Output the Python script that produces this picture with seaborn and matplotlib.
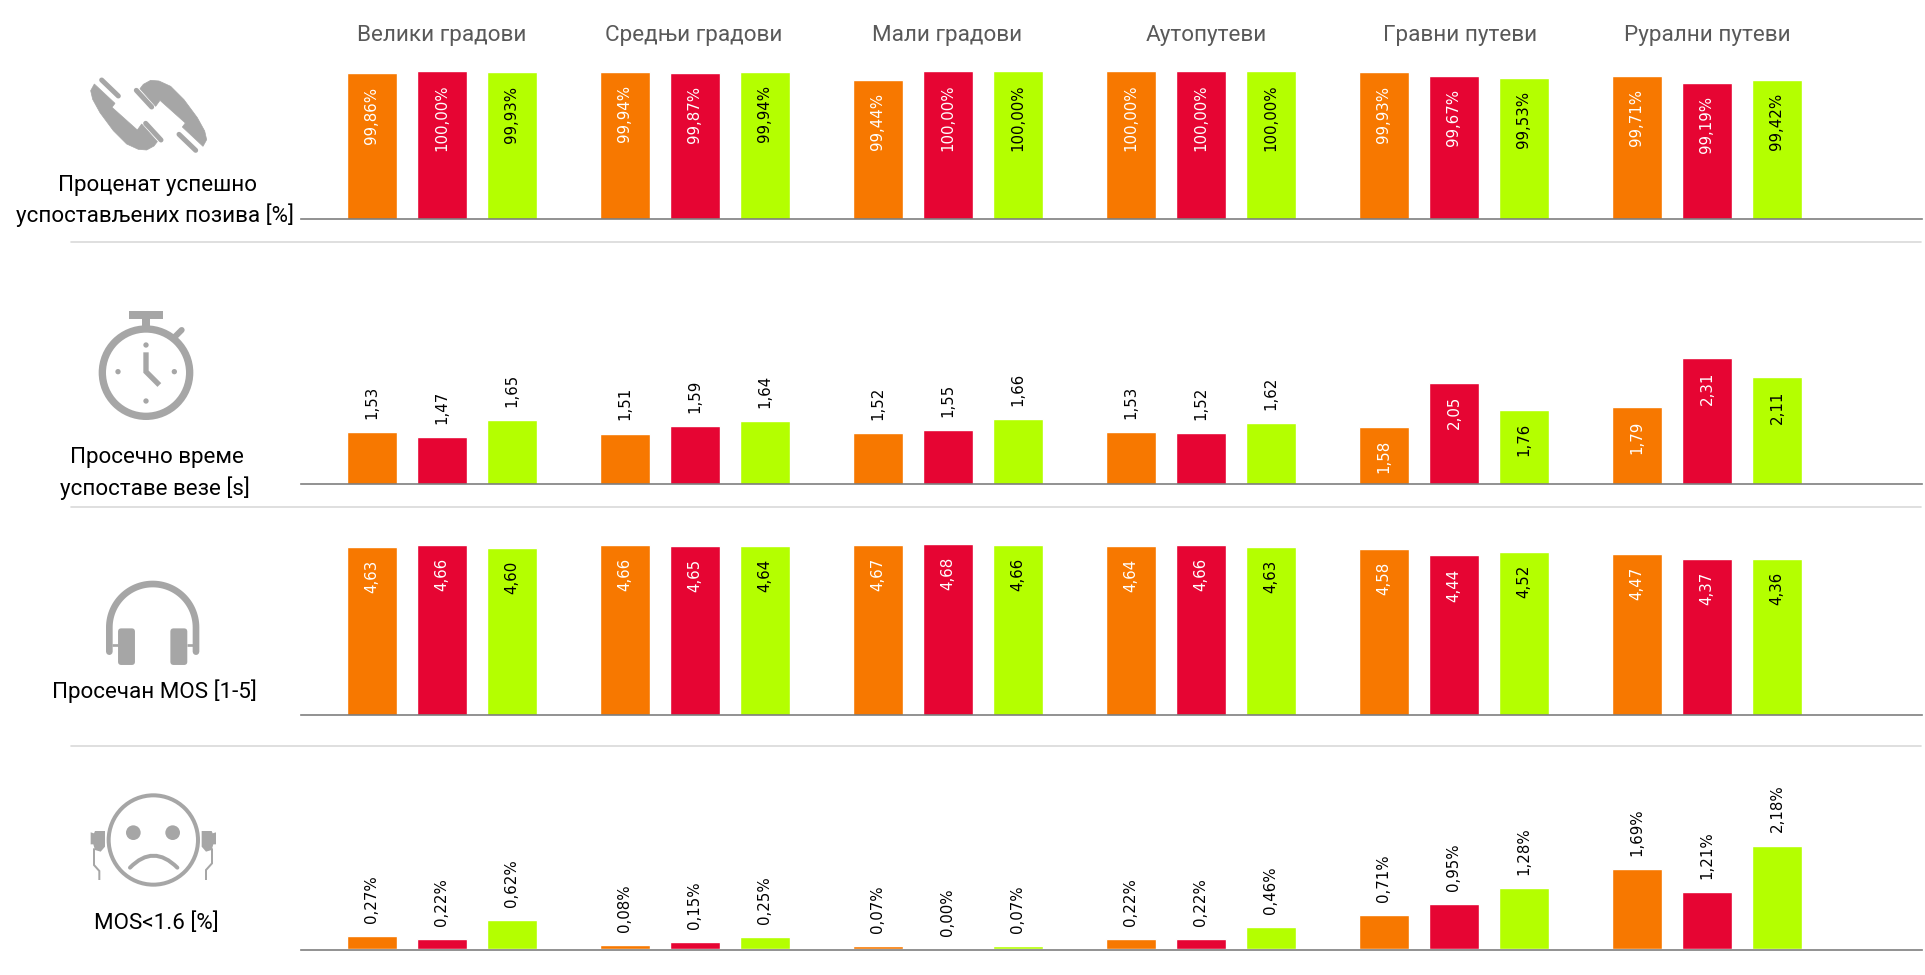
import seaborn as sns
import matplotlib.pyplot as plt
import numpy as np
import pandas as pd
from matplotlib.patches import Circle, FancyBboxPatch, PathPatch, Polygon, Rectangle
from matplotlib.path import Path

sns.set_style("white")
plt.rcParams["font.family"] = "DejaVu Sans"

# ---- Data ----
categories = ["Велики градови", "Средњи градови", "Мали градови",
              "Аутопутеви", "Гравни путеви", "Рурални путеви"]
operators = ["Оператор 1", "Оператор 2", "Оператор 3"]

success_1 = [99.86, 99.94, 99.44, 100.00, 99.93, 99.71]
success_2 = [100.00, 99.87, 100.00, 100.00, 99.67, 99.19]
success_3 = [99.93, 99.94, 100.00, 100.00, 99.53, 99.42]

setup_1 = [1.53, 1.51, 1.52, 1.53, 1.58, 1.79]
setup_2 = [1.47, 1.59, 1.55, 1.52, 2.05, 2.31]
setup_3 = [1.65, 1.64, 1.66, 1.62, 1.76, 2.11]

mos_1 = [4.63, 4.66, 4.67, 4.64, 4.58, 4.47]
mos_2 = [4.66, 4.65, 4.68, 4.66, 4.44, 4.37]
mos_3 = [4.60, 4.64, 4.66, 4.63, 4.52, 4.36]

low_1 = [0.27, 0.08, 0.07, 0.22, 0.71, 1.69]
low_2 = [0.22, 0.15, 0.00, 0.22, 0.95, 1.21]
low_3 = [0.62, 0.25, 0.07, 0.46, 1.28, 2.18]

palette = ["#F77800", "#E60533", "#B4FF00"]
GREY = "#A6A6A6"

W, H = 1925, 975
fig = plt.figure(figsize=(W / 100, H / 100), dpi=100)

# overlay in pixel coordinates for separators, icons and row captions
bg = fig.add_axes([0, 0, 1, 1], zorder=0)
bg.set_xlim(0, W)
bg.set_ylim(H, 0)
bg.axis("off")


def draw_panel(vals, ymin, ymax, axis_y, px_per_unit, suffix, inside_groups):
    height = (ymax - ymin) * px_per_unit
    x0, x1 = 301, 1922
    ax = fig.add_axes([x0 / W, 1 - axis_y / H, (x1 - x0) / W, height / H], zorder=2)
    ax.patch.set_visible(False)
    df = pd.DataFrame({
        "cat": categories * 3,
        "op": [o for o in operators for _ in categories],
        "val": [v for s in vals for v in s],
    })
    sns.barplot(data=df, x="cat", y="val", hue="op", palette=palette, ax=ax,
                width=0.83, gap=0.28, saturation=1, legend=False)
    ax.set_xlim(-0.557, 5.85)
    ax.set_ylim(ymin, ymax)
    ax.set(xlabel="", ylabel="", xticks=[], yticks=[])
    sns.despine(ax=ax, left=True)
    ax.spines["bottom"].set_color("#7F7F7F")
    ax.spines["bottom"].set_linewidth(1.2)
    for op_i, cont in enumerate(ax.containers):
        for g, (bar, v) in enumerate(zip(cont, vals[op_i])):
            label = f"{v:.2f}".replace(".", ",") + suffix
            inside = g in inside_groups
            color = "black" if (not inside or op_i == 2) else "white"
            ax.annotate(label, (bar.get_x() + bar.get_width() / 2, bar.get_height()),
                        xytext=(0, -9.4 if inside else 9.4), textcoords="offset points",
                        rotation=90, ha="center", va="top" if inside else "bottom",
                        fontsize=10.8, color=color, annotation_clip=False)
    return ax


all_groups = range(6)
draw_panel([success_1, success_2, success_3], 90, 100, 219.3, 14.8, "%", all_groups)
draw_panel([setup_1, setup_2, setup_3], 0.97, 2.6, 484.3, 94, "", [4, 5])
draw_panel([mos_1, mos_2, mos_3], 1, 5, 715.3, 46.5, "", all_groups)
draw_panel([low_1, low_2, low_3], -0.02, 2.5, 950, 47.5, "%", [])

# ---- Separators ----
for y in [242.3, 507, 746]:
    bg.plot([71, 1921], [y, y], color="#D9D9D9", lw=1.2)

# ---- Column titles and row captions ----
title_x = [442, 694, 947, 1206, 1460, 1707]
for name, x in zip(categories, title_x):
    bg.text(x, 35.5, name, ha="center", va="center", fontsize=16.2,
            color="#595959", family="Roboto")

captions = [(157, 185, "Проценат успешно"), (155, 215, "успостављених позива [%]"),
            (157, 458, "Просечно време"), (155, 488, "успоставе везе [s]"),
            (154, 691, "Просечан MOS [1-5]"), (156, 923, "MOS<1.6 [%]")]
for x, y, txt in captions:
    bg.text(x, y, txt, ha="center", va="center", fontsize=16.1,
            color="black", family="Roboto")


# ---- Icons ----
def to_px(ox, oy, pts):
    return [(ox + a / 3, oy + b / 3) for a, b in pts]


def stroke(ox, oy, pts, width, cap="round"):
    p = to_px(ox, oy, pts)
    bg.plot([q[0] for q in p], [q[1] for q in p], color=GREY, lw=width / 3 * 0.72,
            solid_capstyle=cap, solid_joinstyle="miter")


# phone pair
body = [(43, 42), (105, 100), (96, 112), (172, 180), (185, 162), (232, 215), (222, 228),
        (200, 240), (175, 238), (140, 222), (100, 182), (60, 128), (38, 88), (32, 62)]
pads = [[(65, 30), (115, 78)], [(197, 160), (243, 210)]]
for flip in (False, True):
    conv = (lambda q: (412 - q[0], 271 - q[1])) if flip else (lambda q: q)
    bg.add_patch(Polygon(to_px(80, 70, [conv(q) for q in body]), closed=True, fc=GREY, ec=GREY, lw=0.5))
    for pad in pads:
        stroke(80, 70, [conv(q) for q in pad], 15)

# stopwatch
bg.add_patch(Circle((90 + 168 / 3, 305 + 203 / 3), 131 / 3, fc="none", ec=GREY, lw=22 / 3 * 0.72))
bg.add_patch(Rectangle((90 + 117 / 3, 305 + 17 / 3), 102 / 3, 26 / 3, fc=GREY, ec="none"))
bg.add_patch(Rectangle((90 + 155 / 3, 305 + 43 / 3), 25 / 3, 22 / 3, fc=GREY, ec="none"))
stroke(90, 305, [(255, 95), (275, 75)], 18)
for a, b in [(168, 120), (84, 200), (253, 200), (168, 288)]:
    bg.add_patch(Circle((90 + a / 3, 305 + b / 3), 8 / 3, fc=GREY, ec="none"))
stroke(90, 305, [(168, 142), (168, 200), (208, 240)], 16, cap="butt")

# headphones
theta = np.linspace(np.pi, 2 * np.pi, 60)
hp_x, hp_y, hp_r = 90 + 188 / 3, 575 + 157 / 3, 130 / 3
band_x = np.r_[hp_x - hp_r, hp_x + hp_r * np.cos(theta), hp_x + hp_r]
band_y = np.r_[575 + 230 / 3, hp_y + hp_r * np.sin(theta), 575 + 230 / 3]
bg.plot(band_x, band_y, color=GREY, lw=20 / 3 * 0.72, solid_capstyle="round")
for left in (84, 241):
    bg.add_patch(FancyBboxPatch((90 + (left + 10) / 3, 575 + 170 / 3), 31 / 3, 90 / 3,
                                boxstyle="round,pad=3.3,rounding_size=3.3", fc=GREY, ec="none"))
stroke(90, 575, [(65, 210), (84, 210)], 8, cap="butt")
stroke(90, 575, [(292, 210), (310, 210)], 8, cap="butt")

# sad face with earbuds
bg.add_patch(Circle((80 + 220 / 3, 785 + 165 / 3), 134 / 3, fc="none", ec=GREY, lw=12 / 3 * 0.72))
for a in (160, 278):
    bg.add_patch(Circle((80 + a / 3, 785 + 143 / 3), 22 / 3, fc=GREY, ec="none"))
mouth = to_px(80, 785, [(150, 248), (220, 176), (292, 248)])
bg.add_patch(PathPatch(Path(mouth, [Path.MOVETO, Path.CURVE3, Path.CURVE3]), fc="none", ec=GREY,
                       lw=12 / 3 * 0.72, capstyle="round"))
bud_l = [(32, 142), (42, 145), (45, 138), (75, 138), (75, 185), (62, 200), (45, 195), (40, 178), (32, 178)]
bud_r = [(440 - a, b) for a, b in bud_l]
for bud in (bud_l, bud_r):
    bg.add_patch(Polygon(to_px(80, 785, bud), closed=True, fc=GREY, ec="none"))
stroke(80, 785, [(42, 190), (42, 240), (58, 258), (58, 285)], 6, cap="butt")
stroke(80, 785, [(396, 190), (396, 235), (378, 255), (378, 285)], 6, cap="butt")

fig.savefig("out.png", dpi=100)
plt.close()
